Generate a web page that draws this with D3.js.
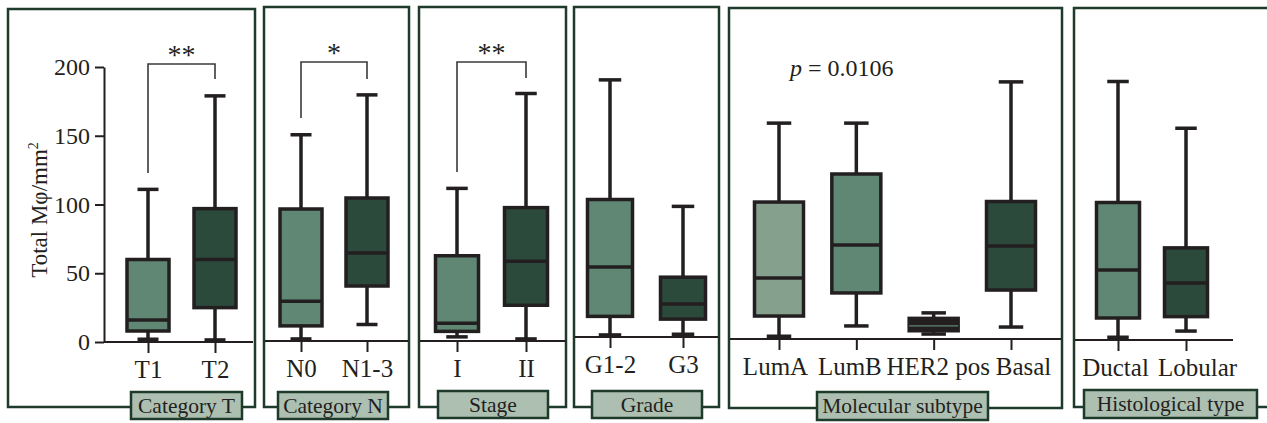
<!DOCTYPE html>
<html>
<head>
<meta charset="utf-8">
<script src="https://cdn.jsdelivr.net/npm/d3@7"></script>
<style>
  body { margin: 0; background: #fff; }
  text { font-family: "Liberation Serif", "Times New Roman", serif; fill: #231f20; }
</style>
</head>
<body>
<svg id="chart" width="1267" height="423"></svg>
<script>
// box stats: [min, q1, median, q3, max]
const catT = ['T1', 'T2'];
const statsT = [[2, 8, 16, 60, 111], [1.5, 25, 60, 97, 179]];

const catN = ['N0', 'N1-3'];
const statsN = [[1.5, 11, 29, 96, 150], [12, 40, 64, 104, 179]];

const catStage = ['I', 'II'];
const statsStage = [[3, 7, 13, 62, 111], [1.5, 26, 58, 97, 180]];

const catGrade = ['G1-2', 'G3'];
const statsGrade = [[1.5, 15, 51, 100, 187], [2, 13, 24, 43.5, 95]];

const catMol = ['LumA', 'LumB', 'HER2 pos', 'Basal'];
const statsMol = [[2, 16.7, 44.4, 99.6, 157], [9.5, 33.5, 68.4, 120, 157], [3.6, 6, 9.5, 15, 19], [8.7, 35.6, 67.6, 100, 187]];

const catHist = ['Ductal', 'Lobular'];
const statsHist = [[2, 16, 51, 100, 188], [6.5, 17, 41.5, 67, 154]];

const yTicks = [0, 50, 100, 150, 200];

// colours
const ink = '#231f20';
const frameCol = '#1d3a2a';
const light = '#5f8773';
const dark = '#2c4a3b';
const pale = '#86a08e';
const labelFill = '#adbfb1';

// layout of each panel (pixels)
const panels = [
  { cats: catT, stats: statsT, title: 'Category T', frame: [8, 9, 255, 407], base: 342, line: [104, 253],
    x: [148, 215], bw: 42, lab: [131, 242, 392, 419], fills: [light, dark], sig: { text: '**', legs: [173, 64, 79] } },
  { cats: catN, stats: statsN, title: 'Category N', frame: [264, 7, 409, 407], base: 341, line: [265, 408],
    x: [301, 367], bw: 42, lab: [278, 388, 392, 419], fills: [light, dark], sig: { text: '*', legs: [118, 62, 79] } },
  { cats: catStage, stats: statsStage, title: 'Stage', frame: [419, 7, 566, 407], base: 341, line: [420, 565],
    x: [457, 526], bw: 43, lab: [438, 548, 391, 418], fills: [light, dark], sig: { text: '**', legs: [172, 62, 78] } },
  { cats: catGrade, stats: statsGrade, title: 'Grade', frame: [574, 7, 719, 407], base: 337, line: [575, 718],
    x: [610, 683], bw: 45, lab: [592, 702, 391, 418], fills: [light, dark] },
  { cats: catMol, stats: statsMol, title: 'Molecular subtype', frame: [729, 8, 1062, 408], base: 339, line: [730, 1061],
    x: [779, 1011], bw: 49, lab: [817, 988, 392, 420], fills: [pale, light, ink, dark], medCols: [ink, ink, light, ink],
    shift: [-4, -7, 4, 12] },
  { cats: catHist, stats: statsHist, title: 'Histological type', frame: [1074, 8, 1300, 407], base: 340, line: [1075, 1233],
    x: [1118, 1186], bw: 43, lab: [1084, 1257, 390, 418], fills: [light, dark], shift: [-3, 11] }
];

const svg = d3.select('#chart');

panels.forEach((p, pi) => {
  const g = svg.append('g');
  const y = d3.scaleLinear().domain([0, 200]).range([p.base, p.base - 275]);
  const x = d3.scalePoint().domain(p.cats).range(p.x);

  // frame
  g.append('rect')
    .attr('x', p.frame[0]).attr('y', p.frame[1])
    .attr('width', p.frame[2] - p.frame[0]).attr('height', p.frame[3] - p.frame[1])
    .attr('fill', 'none').attr('stroke', frameCol).attr('stroke-width', 2.5);

  // category axis
  const xAxis = g.append('g')
    .attr('transform', `translate(0,${p.base})`)
    .call(d3.axisBottom(x).tickSize(11).tickPadding(7));
  xAxis.select('.domain').remove();
  xAxis.selectAll('line').attr('stroke', ink).attr('stroke-width', 2);
  xAxis.selectAll('text').attr('font-size', 25).attr('font-family', null).attr('fill', ink)
    .attr('dx', (d, i) => p.shift ? p.shift[i] : 0);

  // baseline
  g.append('line')
    .attr('x1', p.line[0]).attr('x2', p.line[1])
    .attr('y1', p.base).attr('y2', p.base)
    .attr('stroke', ink).attr('stroke-width', 2);

  if (pi === 0) {
    const yAxis = g.append('g')
      .attr('transform', `translate(${p.line[0]},0)`)
      .call(d3.axisLeft(y).tickValues(yTicks).tickSize(9).tickPadding(5).tickSizeOuter(0));
    yAxis.select('.domain').attr('stroke', ink).attr('stroke-width', 2);
    yAxis.selectAll('line').attr('stroke', ink).attr('stroke-width', 2);
    yAxis.selectAll('text').attr('font-size', 24).attr('font-family', null).attr('fill', ink);

    const yl = g.append('text')
      .attr('transform', 'translate(47,210) rotate(-90)')
      .attr('text-anchor', 'middle')
      .attr('font-size', 23);
    yl.append('tspan').text('Total Mφ/mm');
    yl.append('tspan').attr('font-size', 14).attr('dy', -9).text('2');
  }

  // boxes
  const boxes = g.selectAll('.box').data(p.stats).enter().append('g').attr('class', 'box');
  boxes.each(function (s, i) {
    const b = d3.select(this);
    const cx = x(p.cats[i]);
    const half = p.bw / 2;
    const cap = p.bw * 0.25;
    b.append('line').attr('x1', cx).attr('x2', cx).attr('y1', y(s[0])).attr('y2', y(s[4]))
      .attr('stroke', ink).attr('stroke-width', 3.5);
    [s[0], s[4]].forEach(v => {
      b.append('line').attr('x1', cx - cap).attr('x2', cx + cap).attr('y1', y(v)).attr('y2', y(v))
        .attr('stroke', ink).attr('stroke-width', 3.5);
    });
    b.append('rect')
      .attr('x', cx - half).attr('y', y(s[3]))
      .attr('width', p.bw).attr('height', y(s[1]) - y(s[3]))
      .attr('fill', p.fills[i]).attr('stroke', ink).attr('stroke-width', 3.5);
    const mc = p.medCols ? p.medCols[i] : ink;
    b.append('line').attr('x1', cx - half).attr('x2', cx + half).attr('y1', y(s[2])).attr('y2', y(s[2]))
      .attr('stroke', mc).attr('stroke-width', mc === ink ? 3.5 : 1.2);
  });

  // significance bracket
  if (p.sig) {
    const x0 = x(p.cats[0]), x1 = x(p.cats[1]);
    const [l0, top, l1] = p.sig.legs;
    g.append('path')
      .attr('d', `M${x0},${l0}V${top}H${x1}V${l1}`)
      .attr('fill', 'none').attr('stroke', '#3a3a3a').attr('stroke-width', 1.6);
    g.append('text')
      .attr('x', (x0 + x1) / 2).attr('y', top)
      .attr('text-anchor', 'middle').attr('font-size', 28)
      .text(p.sig.text);
  }

  // group label box
  g.append('rect')
    .attr('x', p.lab[0]).attr('y', p.lab[2])
    .attr('width', p.lab[1] - p.lab[0]).attr('height', p.lab[3] - p.lab[2])
    .attr('fill', labelFill).attr('stroke', frameCol).attr('stroke-width', 2.5);
  g.append('text')
    .attr('x', (p.lab[0] + p.lab[1]) / 2).attr('y', (p.lab[2] + p.lab[3]) / 2 + 7)
    .attr('text-anchor', 'middle').attr('font-size', 21.5)
    .text(p.title);
});

// p-value for molecular subtype
const pt = svg.append('text').attr('x', 790).attr('y', 76).attr('font-size', 24);
pt.append('tspan').attr('font-style', 'italic').text('p');
pt.append('tspan').text(' = 0.0106');
</script>
</body>
</html>
